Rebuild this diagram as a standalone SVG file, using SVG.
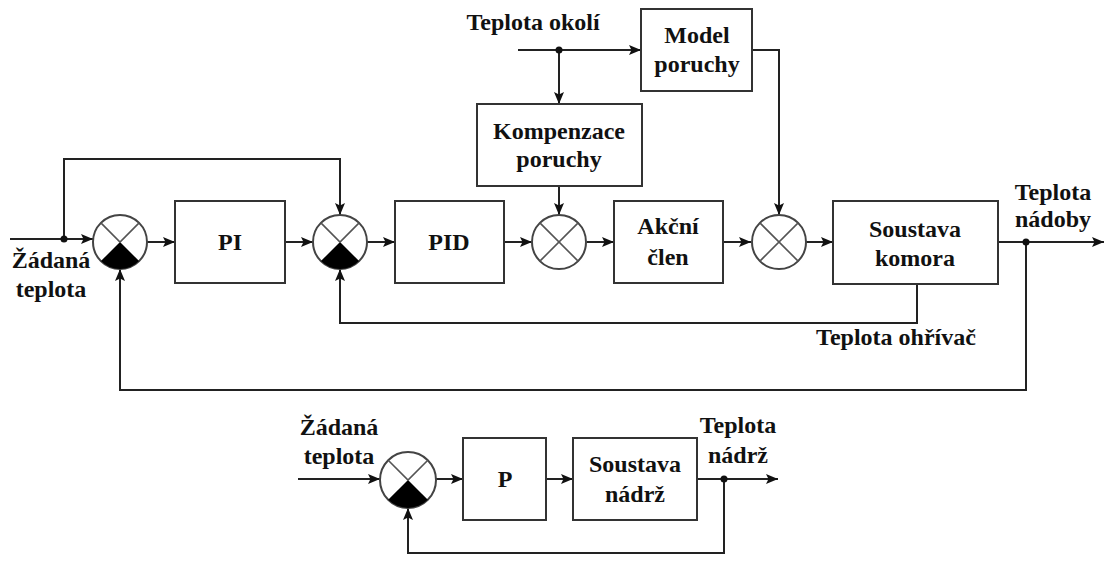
<svg xmlns="http://www.w3.org/2000/svg" width="1106" height="562" viewBox="0 0 1106 562">
<defs>
<style>
.box{fill:#fff;stroke:#333;stroke-width:2}
.ln{fill:none;stroke:#222;stroke-width:2}
.sum{fill:#fff;stroke:#444;stroke-width:2}
.x{fill:none;stroke:#555;stroke-width:1.6}
text{font-weight:bold;font-size:24px;fill:#111;text-anchor:middle}
</style>
<marker id="arr" markerWidth="12" markerHeight="10" refX="12" refY="5" orient="auto" markerUnits="userSpaceOnUse">
<path d="M0,0 L12,5 L0,10 L2.5,5 Z" fill="#111"/>
</marker>
</defs>
<rect width="1106" height="562" fill="#fff"/>

<g id="connectors">
<path class="ln" d="M10,239 H93" marker-end="url(#arr)"/>
<path class="ln" d="M64,239 V159 H340 V215" marker-end="url(#arr)"/>
<path class="ln" d="M147,242 H175" marker-end="url(#arr)"/>
<path class="ln" d="M285,242 H313" marker-end="url(#arr)"/>
<path class="ln" d="M367,242 H395" marker-end="url(#arr)"/>
<path class="ln" d="M504,242 H532" marker-end="url(#arr)"/>
<path class="ln" d="M587,242 H614" marker-end="url(#arr)"/>
<path class="ln" d="M723,242 H751" marker-end="url(#arr)"/>
<path class="ln" d="M806,242 H833" marker-end="url(#arr)"/>
<path class="ln" d="M998,242 H1104" marker-end="url(#arr)"/>
<path class="ln" d="M518,50 H641" marker-end="url(#arr)"/>
<path class="ln" d="M559,50 V104" marker-end="url(#arr)"/>
<path class="ln" d="M559,187 V215" marker-end="url(#arr)"/>
<path class="ln" d="M752,50 H779 V215" marker-end="url(#arr)"/>
<path class="ln" d="M917,284 V323 H340 V269" marker-end="url(#arr)"/>
<path class="ln" d="M1026,242 V390 H120 V269" marker-end="url(#arr)"/>
<path class="ln" d="M298,479 H380" marker-end="url(#arr)"/>
<path class="ln" d="M436,479 H463" marker-end="url(#arr)"/>
<path class="ln" d="M546,479 H573" marker-end="url(#arr)"/>
<path class="ln" d="M697,479 H778" marker-end="url(#arr)"/>
<path class="ln" d="M724,479 V553 H408 V508" marker-end="url(#arr)"/>
<circle cx="64" cy="239" r="3.5" fill="#111"/>
<circle cx="559" cy="50" r="3.5" fill="#111"/>
<circle cx="1026" cy="242" r="3.5" fill="#111"/>
<circle cx="724" cy="479" r="3.5" fill="#111"/>
</g>

<g id="sum1">
<circle class="sum" cx="120" cy="242" r="27"/>
<path d="M120,242 L100.9,261.1 A27,27 0 0 0 139.1,261.1 Z" fill="#000"/>
<path class="x" d="M100.9,222.9 L120,242 L139.1,222.9"/>
</g>
<g id="sum2">
<circle class="sum" cx="340" cy="242" r="27"/>
<path d="M340,242 L320.9,261.1 A27,27 0 0 0 359.1,261.1 Z" fill="#000"/>
<path class="x" d="M320.9,222.9 L340,242 L359.1,222.9"/>
</g>
<g id="sum3">
<circle class="sum" cx="559" cy="242" r="27"/>
<path class="x" d="M539.9,222.9 L578.1,261.1 M578.1,222.9 L539.9,261.1"/>
</g>
<g id="sum4">
<circle class="sum" cx="779" cy="242" r="27"/>
<path class="x" d="M759.9,222.9 L798.1,261.1 M798.1,222.9 L759.9,261.1"/>
</g>
<g id="sum5">
<circle class="sum" cx="408" cy="480" r="28"/>
<path d="M408,480 L388.2,499.8 A28,28 0 0 0 427.8,499.8 Z" fill="#000"/>
<path class="x" d="M388.2,460.2 L408,480 L427.8,460.2"/>
</g>

<g font-family="Liberation Serif, DejaVu Serif, serif">
<g id="PI">
<rect class="box" x="175" y="201" width="110" height="82"/>
<text x="230" y="250">PI</text>
</g>
<g id="PID">
<rect class="box" x="395" y="201" width="109" height="82"/>
<text x="449" y="250">PID</text>
</g>
<g id="akcni">
<rect class="box" x="614" y="201" width="109" height="82"/>
<text x="668" y="234">Akční</text>
<text x="668" y="265">člen</text>
</g>
<g id="soustava-komora">
<rect class="box" x="833" y="201" width="165" height="83"/>
<text x="915" y="237">Soustava</text>
<text x="915" y="266">komora</text>
</g>
<g id="kompenzace">
<rect class="box" x="477" y="104" width="165" height="82"/>
<text x="559" y="139">Kompenzace</text>
<text x="559" y="167">poruchy</text>
</g>
<g id="model">
<rect class="box" x="641" y="9" width="111" height="82"/>
<text x="697" y="43">Model</text>
<text x="697" y="72">poruchy</text>
</g>
<g id="P">
<rect class="box" x="463" y="438" width="83" height="82"/>
<text x="505" y="487">P</text>
</g>
<g id="soustava-nadrz">
<rect class="box" x="573" y="438" width="124" height="82"/>
<text x="635" y="472">Soustava</text>
<text x="635" y="502">nádrž</text>
</g>

<g id="labels">
<text x="51" y="268">Žádaná</text>
<text x="51" y="297">teplota</text>
<text x="533" y="30">Teplota okolí</text>
<text x="1053" y="200">Teplota</text>
<text x="1053" y="227">nádoby</text>
<text x="896" y="345">Teplota ohřívač</text>
<text x="339" y="435">Žádaná</text>
<text x="339" y="464">teplota</text>
<text x="738" y="433">Teplota</text>
<text x="738" y="463">nádrž</text>
</g>
</g>
</svg>
